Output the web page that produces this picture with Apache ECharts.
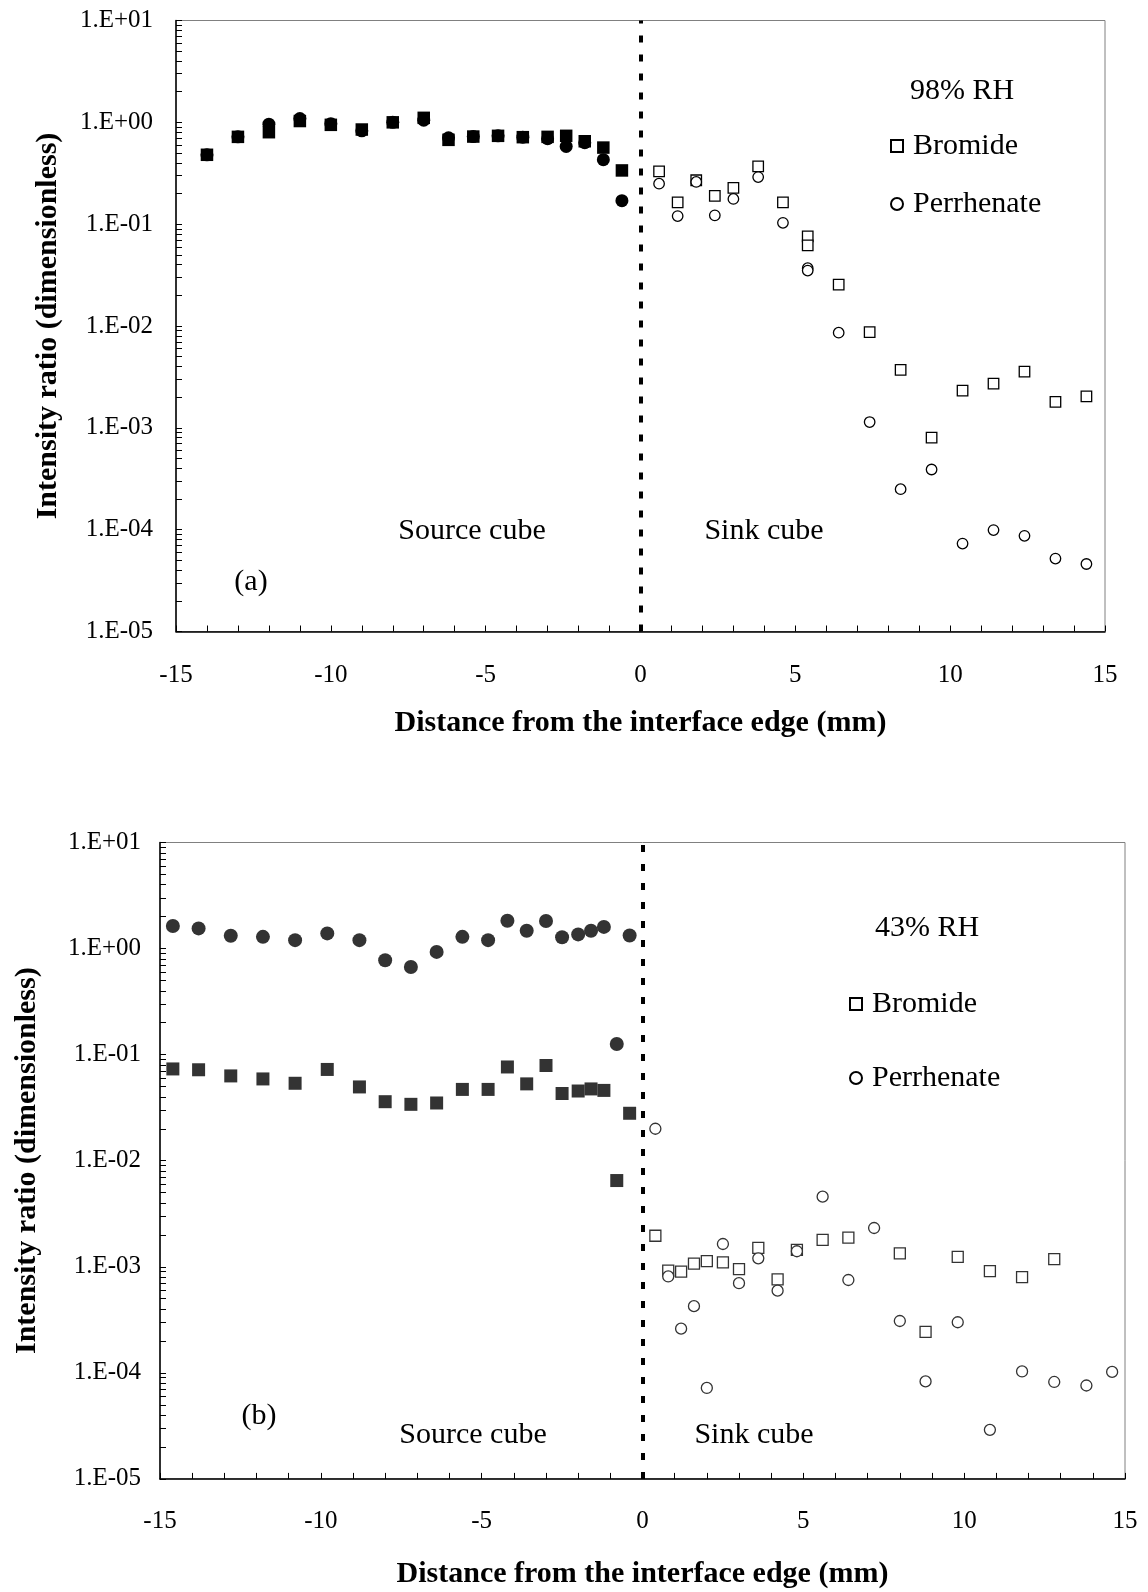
<!DOCTYPE html>
<html>
<head>
<meta charset="utf-8">
<script src="https://cdn.jsdelivr.net/npm/echarts@6.0.0/dist/echarts.min.js"></script>
<style>
  html, body { margin: 0; padding: 0; background: #fff; }
  #chart { width: 1148px; height: 1592px; }
</style>
</head>
<body>
<div id="chart"></div>
<script>
// (a) 98% RH -- source cube (filled) and sink cube (open)
var srcX_a = [-14, -13, -12, -11, -10, -9, -8, -7, -6.2, -5.4, -4.6, -3.8, -3.0, -2.4, -1.8, -1.2, -0.6];
var brSrc_a = [0.48, 0.72, 0.80, 1.03, 0.945, 0.85, 1.0, 1.107, 0.673, 0.725, 0.737, 0.715, 0.72, 0.737, 0.652, 0.565, 0.337];
var reSrc_a = [0.48, 0.72, 0.96, 1.09, 0.97, 0.825, 1.0, 1.05, 0.705, 0.725, 0.737, 0.715, 0.69, 0.58, 0.63, 0.43, 0.17];
var sinkX_a = [0.6, 1.2, 1.8, 2.4, 3.0, 3.8, 4.6, 5.4, 5.4, 6.4, 7.4, 8.4, 9.4, 10.4, 11.4, 12.4, 13.4, 14.4];
var brSink_a = [0.33, 0.164, 0.27, 0.19, 0.227, 0.37, 0.164, 0.076, 0.062, 0.0255, 0.0087, 0.0037, 0.0008, 0.00232, 0.00272, 0.00356, 0.0018, 0.00204];
var reSink_a = [0.25, 0.12, 0.26, 0.122, 0.177, 0.29, 0.103, 0.037, 0.035, 0.0086, 0.00114, 0.00025, 0.00039, 0.000073, 0.000099, 0.000087, 0.000052, 0.000046];

// (b) 43% RH
var srcX_b = [-14.6, -13.8, -12.8, -11.8, -10.8, -9.8, -8.8, -8.0, -7.2, -6.4, -5.6, -4.8, -4.2, -3.6, -3.0, -2.5, -2.0, -1.6, -1.2, -0.8, -0.4];
var reSrc_b = [1.63, 1.55, 1.32, 1.29, 1.20, 1.39, 1.20, 0.776, 0.67, 0.93, 1.29, 1.20, 1.83, 1.47, 1.82, 1.28, 1.36, 1.47, 1.60, 0.126, 1.33];
var brSrc_b = [0.0733, 0.072, 0.063, 0.059, 0.0537, 0.0725, 0.0496, 0.036, 0.034, 0.035, 0.047, 0.047, 0.0765, 0.053, 0.079, 0.043, 0.0454, 0.0475, 0.046, 0.0065, 0.028];
var brSinkX_b = [0.4, 0.8, 1.2, 1.6, 2.0, 2.5, 3.0, 3.6, 4.2, 4.8, 5.6, 6.4, 8.0, 8.8, 9.8, 10.8, 11.8, 12.8];
var brSink_b = [0.00196, 0.00092, 0.00090, 0.00107, 0.00113, 0.00110, 0.00095, 0.00151, 0.00076, 0.00144, 0.00179, 0.00188, 0.00134, 0.000243, 0.00124, 0.00091, 0.00080, 0.00118];
var reSinkX_b = [0.4, 0.8, 1.2, 1.6, 2.0, 2.5, 3.0, 3.6, 4.2, 4.8, 5.6, 6.4, 7.2, 8.0, 8.8, 9.8, 10.8, 11.8, 12.8, 13.8, 14.6];
var reSink_b = [0.020, 0.00081, 0.000261, 0.000425, 0.000072, 0.00164, 0.00070, 0.0012, 0.000595, 0.0014, 0.00458, 0.00075, 0.00232, 0.000308, 0.000083, 0.0003, 0.000029, 0.000103, 0.000082, 0.000076, 0.000102];

var FONT = "'Liberation Serif', 'Times New Roman', serif";

function pairs(xs, ys) {
  return xs.map(function (x, i) { return [x, ys[i]]; });
}

// log minor ticks 1..9 per decade
var logTicks = [];
for (var e = -5; e <= 1; e++) {
  for (var k = 1; k <= 9; k++) {
    var v = k * Math.pow(10, e);
    if (v <= 10.0001) logTicks.push(v);
  }
}

function expLabel(v) {
  var p = Math.round(Math.log10(v));
  var a = Math.abs(p);
  return '1.E' + (p < 0 ? '-' : '+') + (a < 10 ? '0' + a : a);
}

function xAxisFor(grid, gap, margin) {
  return {
    gridIndex: grid, type: 'value', min: -15, max: 15, interval: 5,
    name: 'Distance from the interface edge (mm)', nameLocation: 'middle', nameGap: gap,
    nameTextStyle: { fontFamily: FONT, fontSize: 30, fontWeight: 'bold', color: '#000' },
    axisLine: { show: true, onZero: false, lineStyle: { color: '#000', width: 1.5 } },
    axisTick: { show: true, inside: true, length: 6, lineStyle: { color: '#000' } },
    minorTick: { show: true, splitNumber: 5, length: 6, lineStyle: { color: '#000' } },
    axisLabel: { fontFamily: FONT, fontSize: 25, color: '#000', margin: margin },
    splitLine: { show: false }
  };
}

function yAxisFor(grid, gap, margin) {
  return {
    gridIndex: grid, type: 'log', logBase: 10, min: 0.00001, max: 10,
    name: 'Intensity ratio (dimensionless)', nameLocation: 'middle', nameRotate: 90, nameGap: gap,
    nameTextStyle: { fontFamily: FONT, fontSize: 30, fontWeight: 'bold', color: '#000' },
    axisLine: { show: true, onZero: false, lineStyle: { color: '#000', width: 1.5 } },
    axisTick: { show: true, inside: true, length: 6, customValues: logTicks, lineStyle: { color: '#000' } },
    axisLabel: { fontFamily: FONT, fontSize: 25, color: '#000', margin: margin, formatter: expLabel },
    splitLine: { show: false }
  };
}

function divider() {
  return {
    silent: true, symbol: ['none', 'none'], label: { show: false },
    lineStyle: { color: '#000', width: 4, type: [7, 12] },
    data: [{ xAxis: 0 }]
  };
}

function filled(name, idx, sym, size, color, data) {
  return {
    name: name, type: 'scatter', xAxisIndex: idx, yAxisIndex: idx,
    symbol: sym, symbolSize: size, itemStyle: { color: color, opacity: 1 }, data: data
  };
}

function open(name, idx, sym, size, color, data) {
  return {
    name: name, type: 'scatter', xAxisIndex: idx, yAxisIndex: idx,
    symbol: sym, symbolSize: size,
    itemStyle: { color: '#fff', borderColor: color, borderWidth: 1.3, opacity: 1 }, data: data
  };
}

function txt(s, x, y) {
  return {
    type: 'text', x: x, y: y, silent: true,
    style: { text: s, fill: '#000', font: '30px ' + FONT, align: 'center', verticalAlign: 'middle' }
  };
}

var chart = echarts.init(document.getElementById('chart'));

var brSinkA = open('Bromide', 0, 'rect', 10.5, '#000', pairs(sinkX_a, brSink_a));
brSinkA.markLine = divider();
var brSinkB = open('Bromide', 1, 'rect', 11, '#333', pairs(brSinkX_b, brSink_b));
brSinkB.markLine = divider();

var legendText = { fontFamily: FONT, fontSize: 30, color: '#000', lineHeight: 30, padding: [0, 0, 0, 5] };

chart.setOption({
  animation: false,
  backgroundColor: '#fff',
  grid: [
    { left: 176, right: 43, top: 20.5, height: 611, show: true, borderColor: '#808080', borderWidth: 1, outerBoundsMode: 'none' },
    { left: 160, right: 23, top: 842.5, height: 636.4, show: true, borderColor: '#808080', borderWidth: 1, outerBoundsMode: 'none' }
  ],
  xAxis: [xAxisFor(0, 77, 31), xAxisFor(1, 80, 30)],
  yAxis: [yAxisFor(0, 113, 23), yAxisFor(1, 118, 19)],
  legend: [
    { data: ['Bromide', 'Perrhenate'], orient: 'vertical', left: 885, top: 126, itemGap: 28,
      itemWidth: 12, itemHeight: 12, selectedMode: false, textStyle: legendText },
    { data: ['Bromide', 'Perrhenate'], orient: 'vertical', left: 844, top: 984, itemGap: 44,
      itemWidth: 12, itemHeight: 12, selectedMode: false, textStyle: legendText }
  ],
  graphic: [
    txt('98% RH', 962, 91),
    txt('Source cube', 472, 531),
    txt('Sink cube', 764, 531),
    txt('(a)', 251, 582),
    txt('43% RH', 927, 928),
    txt('Source cube', 473, 1435),
    txt('Sink cube', 754, 1435),
    txt('(b)', 259, 1416)
  ],
  series: [
    filled('Perrhenate (source a)', 0, 'circle', 13, '#000', pairs(srcX_a, reSrc_a)),
    filled('Bromide (source a)', 0, 'rect', 12.5, '#000', pairs(srcX_a, brSrc_a)),
    brSinkA,
    open('Perrhenate', 0, 'circle', 10.5, '#000', pairs(sinkX_a, reSink_a)),
    filled('Perrhenate (source b)', 1, 'circle', 14, '#333', pairs(srcX_b, reSrc_b)),
    filled('Bromide (source b)', 1, 'rect', 13, '#333', pairs(srcX_b, brSrc_b)),
    brSinkB,
    open('Perrhenate', 1, 'circle', 11, '#333', pairs(reSinkX_b, reSink_b))
  ]
});
</script>
</body>
</html>
